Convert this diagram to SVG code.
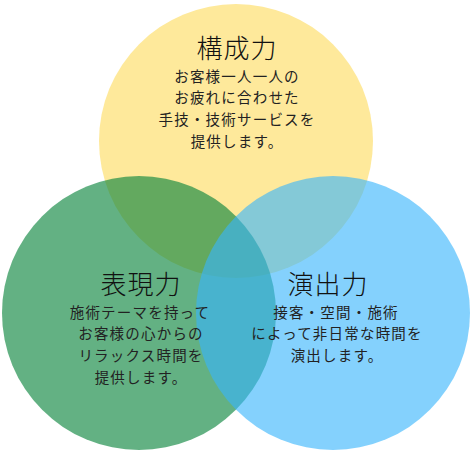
<svg xmlns="http://www.w3.org/2000/svg" width="472" height="453" viewBox="0 0 472 453">
<style>
text{font-family:"Noto Sans CJK JP","Noto Sans CJK SC",sans-serif;text-anchor:middle;fill:#222;}
.t{font-size:26px;fill:#111;font-weight:300;letter-spacing:1px;}
.b{font-size:14.5px;letter-spacing:1.2px;}
</style>
<rect width="472" height="453" fill="#ffffff"/>
<g id="node-kousei">
<circle cx="236" cy="141" r="137" fill="#fee99b"/>
</g>
<g id="node-hyougen">
<circle cx="139" cy="313" r="137" fill="rgb(11,133,61)" fill-opacity="0.64"/>
</g>
<g id="node-enshutsu">
<circle cx="333" cy="313" r="137" fill="rgb(56,181,252)" fill-opacity="0.62"/>
</g>
<g id="labels-kousei">
<text class="t" x="237" y="58">構成力</text>
<text class="b" x="237" y="82">お客様一人一人の</text>
<text class="b" x="237" y="103">お疲れに合わせた</text>
<text class="b" x="237" y="125">手技・技術サービスを</text>
<text class="b" x="237" y="147">提供します。</text>
</g>
<g id="labels-hyougen">
<text class="t" x="141" y="294">表現力</text>
<text class="b" x="140" y="318">施術テーマを持って</text>
<text class="b" x="141" y="339">お客様の心からの</text>
<text class="b" x="141" y="361">リラックス時間を</text>
<text class="b" x="141" y="383">提供します。</text>
</g>
<g id="labels-enshutsu">
<text class="t" x="328" y="294">演出力</text>
<text class="b" x="336" y="318">接客・空間・施術</text>
<text class="b" x="337" y="339">によって非日常な時間を</text>
<text class="b" x="337" y="361">演出します。</text>
</g>
<g id="connectors"></g>
</svg>
